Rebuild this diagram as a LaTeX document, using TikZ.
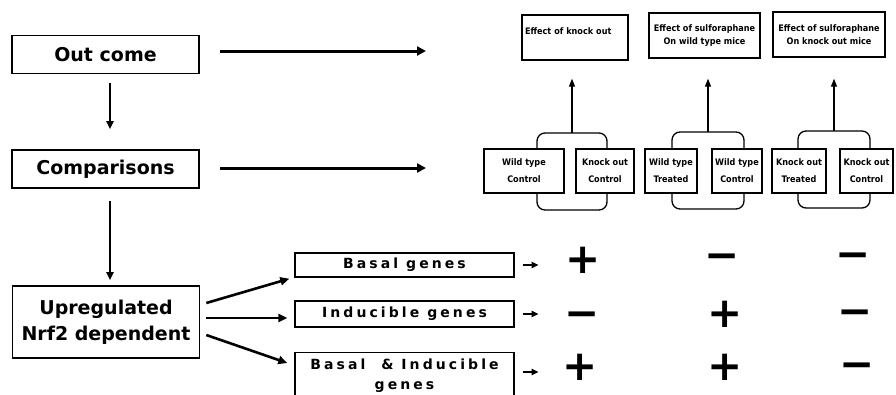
\documentclass[tikz,border=0pt]{standalone}
\usepackage{fontspec}
\setmainfont{DejaVu Sans}
\newfontfamily\condf{DejaVu Sans Condensed}
\newfontfamily\widef{DejaVu Sans}[LetterSpace=22]
\usetikzlibrary{arrows.meta,calc}
\begin{document}
\begin{tikzpicture}[x=1pt,y=-1pt,
  bigbox/.style={draw,line width=1.6pt,inner sep=0pt,minimum width=187pt,
    font=\bfseries\fontsize{19}{26}\selectfont,align=center},
  genebox/.style={draw,line width=1.4pt,inner sep=0pt,minimum width=219pt,
    font=\widef\bfseries\fontsize{14}{20}\selectfont,align=center},
  cmpbox/.style={draw,fill=white,line width=1.3pt,inner sep=0pt,minimum height=44pt,
    font=\condf\bfseries\fontsize{9}{17}\selectfont,align=center},
  topbox/.style={draw,line width=1.3pt,inner sep=0pt,minimum height=45pt,
    font=\condf\bfseries\fontsize{9}{13}\selectfont,align=center},
  bracket/.style={draw,line width=1.3pt,rounded corners=8pt},
  bigarrow/.style={line width=3pt,-{Triangle[length=9pt,width=9pt]}},
  downarrow/.style={line width=1.8pt,-{Triangle[length=8pt,width=7pt]}},
  midarrow/.style={line width=2.6pt,-{Triangle[length=9pt,width=8pt]}},
  smallarrow/.style={line width=2.2pt,-{Triangle[length=7pt,width=6pt]}},
  uparrow/.style={line width=1.3pt,-{Triangle[length=8pt,width=6pt]}},
  sign/.style={inner sep=0pt,text height=30pt,text depth=0pt,
    font=\bfseries\fontsize{42}{42}\selectfont}]
\useasboundingbox (0,0) rectangle (896,394);

% left column
\node[bigbox,minimum height=38pt] (oc) at (105.5,54.5) {Out come};
\node[bigbox,minimum height=38pt] (cmp) at (105.5,169) {Comparisons};
\node[bigbox,minimum height=72pt] (up) at (106,322) {Upregulated\\Nrf2 dependent};

\draw[downarrow,shorten <=9pt,shorten >=20pt] ([xshift=4.5pt]oc.south) -- ([xshift=4.5pt]cmp.north);
\draw[downarrow,shorten <=12pt,shorten >=5pt] ([xshift=4.5pt]cmp.south) -- ([xshift=4pt]up.north);

\coordinate (a1s) at (220,51);
\coordinate (a1e) at (426,51);
\coordinate (a2s) at (220,168);
\coordinate (a2e) at (426,168);
\draw[bigarrow] (a1s) -- (a1e);
\draw[bigarrow] (a2s) -- (a2e);

% gene boxes
\node[genebox,minimum height=24pt] (basal) at (404.5,265) {Basal genes};
\node[genebox,minimum height=26pt] (induc) at (404.5,314) {Inducible genes};
\node[genebox,minimum height=45pt,anchor=north] (both) at (404.5,352) {Basal\ \ \&\ Inducible\\genes};

\draw[midarrow] ($(up.east)+(6,-19)$) -- ($(basal.south west)+(-5,1)$);
\draw[midarrow] ($(up.east)+(6,-4)$) -- ($(induc.west)+(-7,4)$);
\draw[midarrow] ($(up.east)+(6,13)$) -- ($(both.north west)+(-7,11)$);

\draw[smallarrow] ([xshift=8pt]basal.east) -- ++(16,0);
\draw[smallarrow] ([xshift=8pt]induc.east) -- ++(16,0);
\draw[smallarrow] ($(both.north east)+(8,20)$) -- ++(16,0);

% signs
\node[sign] (s11) at (583,258) {+};
\node[sign] (s12) at (722,254) {−};
\node[sign] (s13) at (853,253) {−};
\node[sign] (s21) at (582,312) {−};
\node[sign] (s22) at (725,312) {+};
\node[sign] (s23) at (855,310) {−};
\node[sign] (s31) at (580,365) {+};
\node[sign] (s32) at (725,365) {+};
\node[sign] (s33) at (857,363) {−};

% brackets
\draw[bracket] (537,133) rectangle (607,210);
\draw[bracket] (672,132) rectangle (744,209);
\draw[bracket] (798,131) rectangle (870,208);
\coordinate (b1) at (572,133);
\coordinate (b2) at (708,132);
\coordinate (b3) at (834,131);

% comparison boxes
\node[cmpbox,minimum width=80pt] (c1) at (524,171) {Wild type\\Control};
\node[cmpbox,minimum width=58pt] (c2) at (605,171) {Knock out\\Control};
\node[cmpbox,minimum width=52pt] (c3) at (671,171) {Wild type\\Treated};
\node[cmpbox,minimum width=50pt] (c4) at (737,171) {Wild type\\Control};
\node[cmpbox,minimum width=54pt] (c5) at (799,171) {Knock out\\Treated};
\node[cmpbox,minimum width=53pt] (c6) at (866.5,171) {Knock out\\Control};

% top boxes
\node[topbox,minimum width=106pt,text width=100pt,align=left] (t1) at (575,37.5) {Effect of knock out\\\mbox{}};
\node[topbox,minimum width=111pt] (t2) at (704.5,35.5) {Effect of sulforaphane\\On wild type mice};
\node[topbox,minimum width=112pt] (t3) at (829,34.5) {Effect of sulforaphane\\On knock out mice};

\draw[uparrow,shorten >=18pt] (b1) -- (b1 |- t1.south);
\draw[uparrow,shorten >=20pt] (b2) -- (b2 |- t2.south);
\draw[uparrow,shorten >=21pt] (b3) -- (b3 |- t3.south);
\end{tikzpicture}
\end{document}
